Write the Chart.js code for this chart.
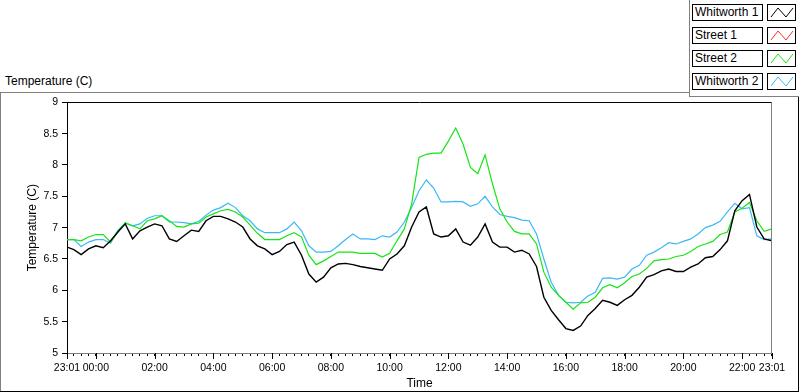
<!DOCTYPE html>
<html>
<head>
<meta charset="utf-8">
<script src="https://cdn.jsdelivr.net/npm/chart.js@4.4.1/dist/chart.umd.min.js"></script>
<style>
  body { margin: 0; background: #fff; font-family: "Liberation Sans", Arial, sans-serif; }
  #wrap { position: relative; width: 800px; height: 392px; overflow: hidden; background: #fff; }
  .ln { position: absolute; }
  #topLabel { position: absolute; left: 5px; top: 74px; font-size: 12px; line-height: 14px; color: #000; }
  #panel { position: absolute; left: 0; top: 92px; width: 798px; height: 299px; }
  .lg-name, .lg-icon { position: absolute; box-sizing: border-box; height: 17px; border: 1px solid #000; background: #fff; }
  .lg-name { left: 692px; width: 71px; font-size: 12px; line-height: 15px; padding-left: 2px; color: #000; white-space: nowrap; }
  .lg-icon { left: 767px; width: 29px; }
  .lg-icon svg { display: block; }
</style>
</head>
<body>
<div id="wrap">
  <div id="topLabel">Temperature (C)</div>

  <!-- panel frame -->
  <div class="ln" style="left:0;top:92px;width:690px;height:1px;background:#808080"></div>
  <div class="ln" style="left:0;top:92px;width:1px;height:299px;background:#808080"></div>
  <div class="ln" style="left:0;top:391px;width:799px;height:1px;background:#000"></div>
  <div class="ln" style="left:798px;top:96px;width:1px;height:296px;background:#000"></div>
  <!-- legend frame -->
  <div class="ln" style="left:689px;top:0;width:1px;height:97px;background:#808080"></div>
  <div class="ln" style="left:689px;top:96px;width:110px;height:1px;background:#808080"></div>

  <div id="legend"></div>

  <div id="panel"><canvas id="chart"></canvas></div>
</div>

<script>
// sample times (23:01 previous day .. 23:01), every 15 minutes
const times = [
  '23:01', '23:15', '23:30', '23:45',
  '00:00', '00:15', '00:30', '00:45', '01:00', '01:15', '01:30', '01:45',
  '02:00', '02:15', '02:30', '02:45', '03:00', '03:15', '03:30', '03:45',
  '04:00', '04:15', '04:30', '04:45', '05:00', '05:15', '05:30', '05:45',
  '06:00', '06:15', '06:30', '06:45', '07:00', '07:15', '07:30', '07:45',
  '08:00', '08:15', '08:30', '08:45', '09:00', '09:15', '09:30', '09:45',
  '10:00', '10:15', '10:30', '10:45', '11:00', '11:15', '11:30', '11:45',
  '12:00', '12:15', '12:30', '12:45', '13:00', '13:15', '13:30', '13:45',
  '14:00', '14:15', '14:30', '14:45', '15:00', '15:15', '15:30', '15:45',
  '16:00', '16:15', '16:30', '16:45', '17:00', '17:15', '17:30', '17:45',
  '18:00', '18:15', '18:30', '18:45', '19:00', '19:15', '19:30', '19:45',
  '20:00', '20:15', '20:30', '20:45', '21:00', '21:15', '21:30', '21:45',
  '22:00', '22:15', '22:30', '22:45', '23:01'
];

const whitworth1 = [
  6.69, 6.65, 6.57, 6.66,
  6.71, 6.68, 6.79, 6.93, 7.06, 6.82, 6.95, 7.01,
  7.06, 7.03, 6.82, 6.78, 6.87, 6.96, 6.94, 7.11,
  7.18, 7.18, 7.14, 7.09, 7.01, 6.82, 6.71, 6.66,
  6.57, 6.62, 6.73, 6.77, 6.56, 6.26, 6.13, 6.21,
  6.36, 6.42, 6.43, 6.41, 6.38, 6.36, 6.34, 6.32,
  6.50, 6.58, 6.71, 7.01, 7.25, 7.33, 6.90, 6.85,
  6.87, 6.98, 6.77, 6.72, 6.85, 7.06, 6.77, 6.69,
  6.69, 6.61, 6.64, 6.58, 6.38, 5.89, 5.68, 5.53,
  5.39, 5.36, 5.43, 5.60, 5.71, 5.84, 5.81, 5.76,
  5.85, 5.92, 6.05, 6.21, 6.25, 6.31, 6.34, 6.30,
  6.30, 6.37, 6.42, 6.52, 6.54, 6.65, 6.79, 7.27,
  7.43, 7.53, 7.01, 6.82, 6.79
];

const street1 = [];

const street2 = [
  6.81, 6.81, 6.79, 6.85,
  6.89, 6.89, 6.77, 6.94, 7.08, 7.03, 6.98, 7.11,
  7.14, 7.19, 7.11, 7.02, 7.01, 7.06, 7.07, 7.17,
  7.22, 7.27, 7.29, 7.25, 7.17, 7.04, 6.91, 6.81,
  6.81, 6.81, 6.87, 6.92, 6.85, 6.56, 6.41, 6.47,
  6.54, 6.61, 6.61, 6.61, 6.59, 6.59, 6.59, 6.53,
  6.59, 6.79, 6.98, 7.38, 8.12, 8.17, 8.19, 8.19,
  8.38, 8.59, 8.33, 7.96, 7.86, 8.16, 7.70, 7.30,
  7.09, 6.94, 6.90, 6.90, 6.74, 6.29, 6.05, 5.92,
  5.81, 5.70, 5.80, 5.81, 5.89, 6.04, 6.09, 6.04,
  6.12, 6.22, 6.26, 6.35, 6.47, 6.49, 6.50, 6.54,
  6.56, 6.62, 6.70, 6.74, 6.78, 6.89, 6.93, 7.25,
  7.31, 7.40, 7.11, 6.94, 6.98
];

const whitworth2 = [
  6.81, 6.81, 6.70, 6.77,
  6.81, 6.81, 6.75, 6.96, 7.07, 7.03, 7.06, 7.15,
  7.19, 7.19, 7.09, 7.09, 7.08, 7.06, 7.10, 7.20,
  7.28, 7.32, 7.39, 7.32, 7.19, 7.11, 6.98, 6.92,
  6.92, 6.92, 6.98, 7.09, 6.95, 6.71, 6.61, 6.61,
  6.62, 6.71, 6.81, 6.90, 6.82, 6.82, 6.81, 6.87,
  6.85, 6.93, 7.09, 7.32, 7.59, 7.76, 7.63, 7.41,
  7.41, 7.42, 7.41, 7.34, 7.38, 7.50, 7.33, 7.21,
  7.18, 7.16, 7.12, 7.11, 6.90, 6.50, 6.13, 5.92,
  5.81, 5.80, 5.81, 5.91, 5.97, 6.19, 6.20, 6.18,
  6.21, 6.34, 6.40, 6.56, 6.61, 6.68, 6.76, 6.74,
  6.78, 6.82, 6.90, 7.00, 7.04, 7.10, 7.25, 7.39,
  7.30, 7.32, 6.87, 6.81, 6.82
];

const seriesNames = ['Whitworth 1', 'Street 1', 'Street 2', 'Whitworth 2'];
const seriesColors = ['#000000', '#ff2a2a', '#14e614', '#3cb8f5'];
const seriesData = [whitworth1, street1, street2, whitworth2];

const yTicks = [5, 5.5, 6, 6.5, 7, 7.5, 8, 8.5, 9];
const xLabelHours = [0, 2, 4, 6, 8, 10, 12, 14, 16, 18, 20, 22];

// hours relative to midnight; the first entries belong to the previous day
function toHours(s, i) {
  const [h, m] = s.split(':').map(Number);
  let v = h + m / 60;
  if (i < 4) v -= 24;
  return v;
}
const xs = times.map(toHours);
const xStart = xs[0];
const xEnd = xs[xs.length - 1];

// tick marks: ends plus every quarter hour
const tickValues = [xStart];
for (let q = -3; q <= 23 * 4; q++) tickValues.push(q / 4);
tickValues.push(xEnd);
const majorTicks = [xStart, ...xLabelHours, xEnd];

function pad(n) { return String(n).padStart(2, '0'); }

// legend
const legend = document.getElementById('legend');
seriesNames.forEach((name, i) => {
  const top = 4 + 23 * i;
  legend.insertAdjacentHTML('beforeend', `
    <div class="lg-name" style="top:${top}px">${name}</div>
    <div class="lg-icon" style="top:${top}px">
      <svg width="27" height="15"><polyline points="3,12 10,3 18,12 25,3" fill="none" stroke="${seriesColors[i]}" stroke-width="1"/></svg>
    </div>`);
});

const framePlugin = {
  id: 'frame',
  afterDraw(chart) {
    const { ctx, chartArea: a, scales: { x } } = chart;
    ctx.save();
    ctx.lineWidth = 1;
    ctx.strokeStyle = '#000';
    ctx.beginPath();
    ctx.moveTo(a.left, Math.round(a.top) + 0.5);
    ctx.lineTo(a.right, Math.round(a.top) + 0.5);
    ctx.stroke();
    ctx.strokeStyle = '#808080';
    ctx.beginPath();
    ctx.moveTo(Math.round(a.right) - 0.5, a.top);
    ctx.lineTo(Math.round(a.right) - 0.5, a.bottom);
    ctx.stroke();
    // longer ticks at labelled times
    ctx.strokeStyle = '#000';
    ctx.beginPath();
    majorTicks.forEach(v => {
      const px = Math.round(x.getPixelForValue(v)) + 0.5;
      ctx.moveTo(px, a.bottom);
      ctx.lineTo(px, a.bottom + 6);
    });
    ctx.stroke();
    ctx.restore();
  }
};

const tickFont = { family: '"Liberation Sans", Arial, sans-serif', size: 10.5 };
const titleFont = { family: '"Liberation Sans", Arial, sans-serif', size: 12 };

new Chart(document.getElementById('chart'), {
  type: 'line',
  data: {
    datasets: seriesNames.map((name, i) => ({
      label: name,
      data: seriesData[i].map((v, j) => ({ x: xs[j], y: v })),
      borderColor: seriesColors[i],
      borderWidth: i === 0 ? 1.4 : 1.2,
      pointRadius: 0,
      fill: false,
      tension: 0
    }))
  },
  options: {
    responsive: true,
    maintainAspectRatio: false,
    animation: false,
    layout: { padding: { top: 9, right: 26, left: 0, bottom: 0 } },
    plugins: { legend: { display: false }, tooltip: { enabled: false } },
    scales: {
      x: {
        type: 'linear',
        min: xStart,
        max: xEnd,
        afterBuildTicks: s => { s.ticks = tickValues.map(v => ({ value: v })); },
        afterFit: s => { s.height = 38; },
        ticks: {
          autoSkip: false,
          maxRotation: 0,
          minRotation: 0,
          padding: 6,
          color: '#000',
          font: tickFont,
          callback: v => {
            if (v === xStart || v === xEnd) return '23:01';
            if (xLabelHours.includes(v)) return pad(v) + ':00';
            return '';
          }
        },
        grid: { drawOnChartArea: false, tickLength: 3, tickColor: '#000' },
        border: { color: '#808080', width: 1 },
        title: { display: true, text: 'Time', color: '#000', font: titleFont, padding: { top: 0, bottom: 0 } }
      },
      y: {
        min: 5,
        max: 9,
        afterBuildTicks: s => { s.ticks = yTicks.map(v => ({ value: v })); },
        afterFit: s => { s.width = 67; },
        ticks: { color: '#000', font: tickFont, padding: 4, callback: v => String(v) },
        grid: { drawOnChartArea: false, tickLength: 5, tickColor: '#000' },
        border: { color: '#000', width: 1 },
        title: { display: true, text: 'Temperature (C)', color: '#000', font: titleFont, padding: { top: 25, bottom: 0 } }
      }
    }
  },
  plugins: [framePlugin]
});
</script>
</body>
</html>
